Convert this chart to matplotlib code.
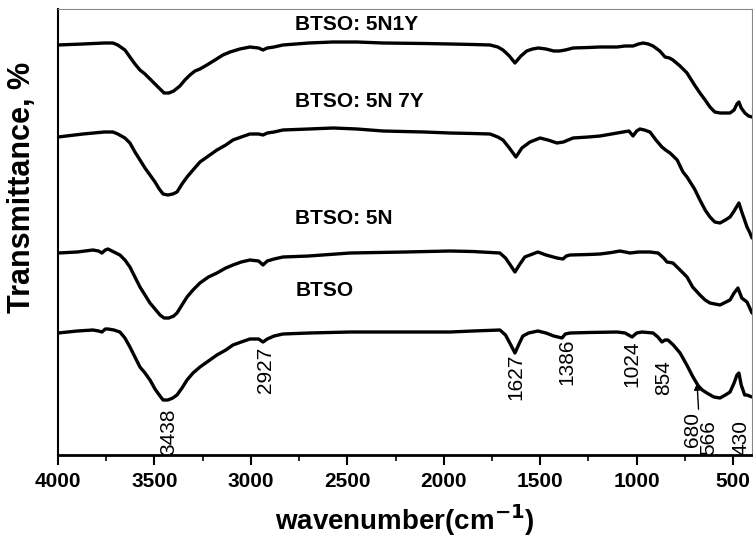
import matplotlib.pyplot as plt
from matplotlib.ticker import MultipleLocator

plt.rcParams['font.family'] = ['Liberation Sans', 'DejaVu Sans']

# spectra (wavenumber, transmittance in arbitrary offset units)
wn_5n1y = [4000, 3870, 3760, 3715, 3690, 3653, 3627, 3601, 3575, 3549, 3523, 3497, 3471, 3450,
           3425, 3400, 3368, 3342, 3316, 3290, 3264, 3228, 3186, 3145, 3108, 3057, 3005, 2960,
           2937, 2915, 2880, 2834, 2700, 2574, 2450, 2315, 2100, 1968, 1850, 1760, 1720, 1693,
           1660, 1631, 1600, 1570, 1540, 1510, 1470, 1430, 1400, 1370, 1330, 1250, 1190, 1102,
           1060, 1019, 990, 967, 940, 915, 880, 853, 830, 812, 775, 739, 700, 672, 645, 620,
           595, 568, 540, 516, 495, 480, 470, 458, 439, 420, 402]
t_5n1y = [410, 411, 412, 412, 410, 405, 398, 391, 385, 381, 376, 371, 366, 362,
          362, 364, 369, 375, 380, 384, 386, 390, 395, 400, 403, 406, 408, 407,
          405, 407, 408, 410, 412, 413, 413, 412, 411.5, 411, 410.5, 410, 408, 405,
          399, 392, 399, 404, 406, 407, 406, 404, 404, 405, 407, 407.5, 408, 408,
          409, 409, 411, 412, 411, 409, 404, 398, 397, 395, 389, 382, 370, 362, 355, 348,
          343, 342, 342, 342, 345, 351, 353, 347, 342, 339, 338]

wn_5n7y = [4000, 3870, 3760, 3715, 3690, 3653, 3627, 3601, 3575, 3549, 3523, 3497, 3475, 3455,
           3430, 3405, 3383, 3357, 3331, 3300, 3264, 3220, 3176, 3130, 3093, 3050, 3005, 2960,
           2937, 2915, 2880, 2834, 2700, 2574, 2450, 2315, 2100, 1968, 1850, 1760, 1720, 1693,
           1660, 1626, 1595, 1553, 1501, 1460, 1413, 1380, 1330, 1250, 1190, 1130, 1071, 1040,
           1019, 1000, 983, 960, 931, 900, 869, 850, 827, 790, 760, 739, 700, 672, 645, 620,
           595, 568, 540, 516, 495, 470, 455, 428, 415, 402]
t_5n7y = [318, 321, 323, 323, 321, 317, 312, 303, 295, 287, 280, 273, 266, 261,
          260, 261, 263, 271, 278, 285, 293, 299, 305, 310, 315, 318, 321, 321,
          320, 322, 323, 325, 326, 327, 326, 324, 323, 322, 321.5, 321, 318, 315,
          307, 298, 307, 313, 317, 315, 312, 313, 317, 318, 319, 321, 323, 324,
          319, 324, 326, 325, 323, 315, 308, 305, 302, 295, 283, 278, 266, 255, 245, 238,
          233, 232, 235, 238, 244, 252, 243, 228, 223, 217]

wn_5n = [4000, 3900, 3819, 3790, 3772, 3755, 3741, 3710, 3679, 3653, 3627, 3601, 3575, 3549,
         3523, 3497, 3471, 3450, 3425, 3400, 3383, 3357, 3331, 3300, 3264, 3220, 3176, 3130,
         3093, 3050, 3005, 2960, 2937, 2915, 2880, 2834, 2700, 2486, 2200, 1968, 1850, 1709,
         1680, 1655, 1631, 1605, 1580, 1553, 1512, 1470, 1413, 1382, 1365, 1346, 1250, 1190,
         1130, 1087, 1060, 1035, 990, 931, 889, 860, 843, 812, 775, 739, 710, 672, 645, 620,
         568, 516, 495, 475, 455, 428, 402]
t_5n = [202, 203, 205, 204, 202, 205, 206, 203, 200, 195, 188, 178, 168, 160,
        152, 146, 140, 137, 137, 139, 142, 150, 158, 165, 172, 178, 182, 187,
        190, 193, 195, 194, 190, 194, 196, 198, 199, 202, 203, 204, 203.5, 202,
        197, 190, 183, 191, 198, 200, 203, 200, 197, 196, 199, 200, 200.5, 201,
        202.5, 204, 203, 202, 203, 203, 202, 197, 193, 192, 185, 178, 168, 160, 155, 152,
        150, 155, 162, 167, 157, 153, 142]

wn_btso = [4000, 3900, 3819, 3790, 3772, 3755, 3741, 3710, 3679, 3653, 3627, 3601, 3575, 3549,
           3523, 3497, 3475, 3455, 3430, 3405, 3383, 3357, 3331, 3300, 3264, 3220, 3176, 3130,
           3093, 3050, 3005, 2960, 2937, 2915, 2880, 2834, 2700, 2486, 2200, 1968, 1850, 1709,
           1680, 1655, 1631, 1610, 1590, 1560, 1512, 1470, 1430, 1387, 1370, 1346, 1250, 1102,
           1060, 1024, 1000, 972, 915, 890, 869, 853, 838, 810, 775, 740, 708, 680, 660, 636,
           600, 568, 540, 516, 495, 480, 470, 458, 440, 428, 402]
t_btso = [122, 124, 125, 124, 123, 126, 126, 125, 123, 117, 108, 98, 88, 82,
          75, 66, 60, 55, 55, 57, 60, 67, 75, 82, 88, 94, 100, 105,
          110, 113, 116, 116, 113, 116, 119, 121, 122, 123, 123, 123, 124, 125,
          120, 111, 102, 111, 119, 122, 124, 122, 119, 117, 121, 122, 122.5, 123,
          122, 118, 122, 123, 122, 118, 113, 115, 115, 110, 102, 90, 78, 69, 65, 62,
          58, 57, 60, 63, 72, 80, 82, 70, 60, 60, 58]

series = [
    (wn_5n1y, t_5n1y, 'BTSO: 5N1Y', 430),
    (wn_5n7y, t_5n7y, 'BTSO: 5N 7Y', 353),
    (wn_5n, t_5n, 'BTSO: 5N', 237),
    (wn_btso, t_btso, 'BTSO', 165),
]

# peak labels on the BTSO curve: (text, x, bottom of text)
peaks = [('3438', 3425, 0), ('2927', 2922, 62), ('1627', 1626, 55), ('1386', 1361, 70),
         ('1024', 1024, 68), ('854', 858, 60), ('566', 625, 0), ('430', 459, 0)]

fig = plt.figure(figsize=(7.53, 5.42), dpi=100)
ax = fig.add_axes([0.077, 0.1605, 0.9217, 0.8229])

for x, y, name, ty in series:
    ax.plot(x, y, color='black', lw=2.4, solid_joinstyle='round', solid_capstyle='round')
    ax.text(2770, ty, name, fontsize=15, fontweight='bold', ha='left', va='center')

for txt, x, y in peaks:
    ax.text(x, y, txt, rotation=90, fontsize=15, ha='center', va='bottom', clip_on=True)

# 680 with a straight up arrow
ax.annotate('680', xy=(687, 72), xytext=(713, 8), rotation=90, fontsize=15,
            ha='center', va='bottom',
            arrowprops=dict(arrowstyle='-|>', color='black', lw=1, shrinkA=0, shrinkB=0,
                            mutation_scale=10, relpos=(0.85, 1.0)))

ax.set_xlim(4000, 402)
ax.set_ylim(0, 446)
ax.set_yticks([])
ax.xaxis.set_major_locator(MultipleLocator(500))
ax.xaxis.set_minor_locator(MultipleLocator(250))
ax.tick_params(axis='x', which='major', direction='out', length=7, width=1.5, labelsize=15, pad=5)
ax.tick_params(axis='x', which='minor', direction='out', length=4, width=1.2)
for lab in ax.get_xticklabels():
    lab.set_fontweight('bold')

ax.spines['bottom'].set_linewidth(2)
ax.spines['left'].set_linewidth(1.5)
ax.spines['top'].set_color('#888888')
ax.spines['right'].set_color('#888888')

ax.set_xlabel('wavenumber(cm$^{\\mathbf{-1}}$)', fontsize=20, fontweight='bold', labelpad=8)
ax.set_ylabel('Transmittance, %', fontsize=22, fontweight='bold')
ax.yaxis.set_label_coords(-0.03, 0.6)

fig.savefig('out.png', dpi=100)
